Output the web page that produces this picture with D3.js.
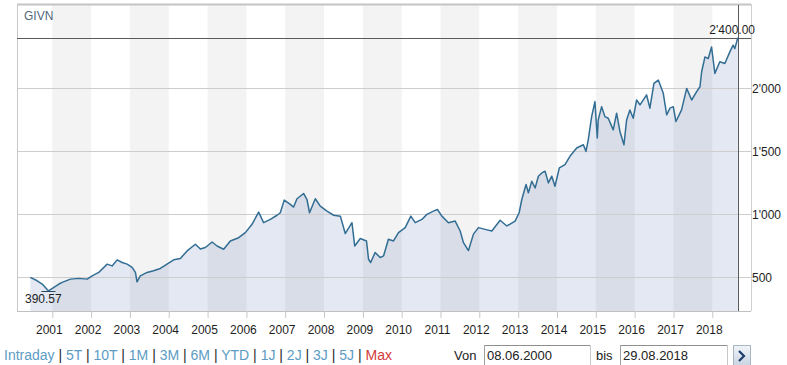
<!DOCTYPE html>
<html>
<head>
<meta charset="utf-8">
<script src="https://cdn.jsdelivr.net/npm/d3@7"></script>
<style>
  html, body { margin: 0; padding: 0; background: #fff; }
  svg { display: block; font-family: "Liberation Sans", Arial, sans-serif; }
</style>
</head>
<body>
<svg id="chart" width="787" height="365"></svg>
<script>
// ---------- data ----------
const symbol = "GIVN";
const startDate = "2000-06-08";
const endDate = "2018-08-29";
const dates = [
  "2000-06-08","2000-08-12","2000-09-28","2000-11-14","2000-11-26","2001-01-16","2001-03-04","2001-04-04",
  "2001-06-21","2001-09-07","2001-11-25","2002-01-11","2002-03-14","2002-06-01","2002-07-18","2002-09-03",
  "2002-10-20","2002-12-06","2003-01-22","2003-02-22","2003-03-09","2003-04-09","2003-06-11","2003-08-12",
  "2003-10-14","2003-12-16","2004-02-17","2004-04-20","2004-06-22","2004-09-08","2004-10-25","2004-12-11",
  "2005-02-12","2005-03-31","2005-06-01","2005-08-03","2005-10-20","2005-12-22","2006-02-23","2006-04-26",
  "2006-06-12","2006-08-14","2006-10-16","2006-11-16","2006-12-23","2007-02-18","2007-03-21","2007-04-22",
  "2007-06-23","2007-07-25","2007-08-18","2007-10-11","2007-11-27","2008-01-29","2008-04-01","2008-06-03",
  "2008-07-19","2008-09-20","2008-10-16","2008-12-07","2009-02-04","2009-02-23","2009-03-15","2009-04-26",
  "2009-06-13","2009-07-15","2009-08-29","2009-10-16","2009-12-02","2010-02-03","2010-03-28","2010-05-08",
  "2010-07-10","2010-08-26","2010-10-27","2010-12-03","2011-01-14","2011-03-17","2011-05-19","2011-07-05",
  "2011-08-05","2011-09-21","2011-11-07","2011-12-24","2012-02-25","2012-04-28","2012-07-15","2012-09-16",
  "2012-12-03","2013-01-10","2013-02-04","2013-03-16","2013-04-07","2013-05-09","2013-06-09","2013-07-10",
  "2013-08-11","2013-09-11","2013-10-12","2013-11-13","2013-12-13","2014-01-23","2014-03-17","2014-05-03",
  "2014-07-05","2014-09-06","2014-10-01","2014-10-22","2014-11-23","2014-12-24","2015-01-15","2015-01-24",
  "2015-02-25","2015-03-28","2015-04-28","2015-06-14","2015-07-16","2015-08-16","2015-09-23","2015-10-18",
  "2015-11-18","2015-12-19","2016-01-20","2016-02-21","2016-04-23","2016-05-24","2016-07-01","2016-08-11",
  "2016-09-27","2016-10-29","2016-11-29","2016-12-30","2017-01-24","2017-03-18","2017-05-05","2017-06-21",
  "2017-08-07","2017-09-07","2017-09-23","2017-10-24","2017-11-24","2017-12-25","2018-01-25","2018-03-13",
  "2018-04-29","2018-06-15","2018-07-16","2018-08-01","2018-08-29"
];
const values = [
  497,470,444,400,390.57,418,444,457,
  483,489,483,509,536,602,588,636,
  615,602,576,536,462,509,536,549,
  568,602,636,647,707,760,722,734,
  778,746,720,786,812,852,918,1015,
  931,957,990,1010,1110,1076,1055,1121,
  1163,1115,1010,1121,1062,1023,990,983,
  845,931,746,805,786,641,615,694,
  655,668,799,786,852,892,983,931,
  957,997,1023,1036,983,931,944,865,
  773,710,840,892,878,865,950,905,
  944,1010,1115,1234,1168,1260,1207,1300,
  1326,1339,1247,1300,1220,1366,1392,1458,
  1524,1550,1497,1589,1773,1892,1603,1747,
  1852,1773,1760,1668,1800,1655,1550,1747,
  1826,1760,1905,1866,1945,1840,2037,2063,
  1958,1787,1840,1852,1734,1826,1997,1905,
  1971,2010,2129,2247,2234,2326,2116,2208,
  2195,2287,2340,2313,2400
];
const yTickValues = [500, 1000, 1500, 2000];
const rangeLinks = ["Intraday","5T","10T","1M","3M","6M","YTD","1J","2J","3J","5J","Max"];
const fromLabel = "Von", toLabel = "bis";
const fromText = "08.06.2000", toText = "29.08.2018";

// ---------- setup ----------
const parse = d3.timeParse("%Y-%m-%d");
const data = dates.map((d, i) => ({ date: parse(d), value: values[i] }));
const chLocale = d3.formatLocale({ decimal: ".", thousands: "'", grouping: [3], currency: ["", ""] });
const fmtInt = chLocale.format(",.0f");
const fmt2 = chLocale.format(",.2f");

const frame = { left: 17, right: 751, top: 4, bottom: 311 };
const x = d3.scaleTime().domain([parse(startDate), parse(endDate)]).range([30.3, 737.8]);
const y = d3.scaleLinear().domain([230, 2667]).range([frame.bottom, frame.top]);

const svg = d3.select("#chart");
const font = "12px";

// alternating year stripes
const years = d3.timeYear.range(new Date(2001, 0, 1), new Date(2018, 0, 1));
svg.append("g").selectAll("rect")
  .data(years.filter(d => d.getFullYear() % 2 === 1))
  .join("rect")
  .attr("x", d => x(d))
  .attr("y", frame.top)
  .attr("width", d => x(d3.timeYear.offset(d, 1)) - x(d))
  .attr("height", frame.bottom - frame.top)
  .attr("fill", "#f3f3f3");

// area
const area = d3.area().x(d => x(d.date)).y0(frame.bottom).y1(d => y(d.value));
svg.append("path").datum(data).attr("d", area).attr("fill", "rgba(60,90,160,0.14)");

// gridlines
svg.append("g").selectAll("line").data(yTickValues).join("line")
  .attr("x1", frame.left).attr("x2", frame.right)
  .attr("y1", d => Math.round(y(d)) + 0.5).attr("y2", d => Math.round(y(d)) + 0.5)
  .attr("stroke", "#cdcdcd").attr("stroke-width", 1);

// frame
svg.append("line").attr("x1", frame.left).attr("x2", frame.right).attr("y1", 4.5).attr("y2", 4.5)
  .attr("stroke", "#c4c4c4").attr("stroke-width", 2);
svg.append("line").attr("x1", frame.left + 0.5).attr("x2", frame.left + 0.5).attr("y1", frame.top).attr("y2", frame.bottom)
  .attr("stroke", "#c8c8c8");
svg.append("line").attr("x1", frame.right + 0.5).attr("x2", frame.right + 0.5).attr("y1", frame.top).attr("y2", frame.bottom)
  .attr("stroke", "#d0d0d0");
svg.append("line").attr("x1", frame.left).attr("x2", frame.right).attr("y1", frame.bottom + 0.5).attr("y2", frame.bottom + 0.5)
  .attr("stroke", "#c0c0c0");

// x axis (year ticks)
const xAxis = d3.axisBottom(x).ticks(d3.timeYear.every(1)).tickFormat(d3.timeFormat("%Y")).tickSize(7).tickPadding(7);
const gx = svg.append("g").attr("transform", `translate(0,${frame.bottom})`).call(xAxis);
gx.select(".domain").remove();
gx.selectAll(".tick line").attr("stroke", "#c8c8c8");
gx.selectAll(".tick text").attr("font-size", font).attr("font-family", null).attr("fill", "#1e1e1e")
  .attr("dx", -3.5);

// y axis labels (right)
const yAxis = d3.axisRight(y).tickValues(yTickValues).tickFormat(fmtInt).tickSize(0).tickPadding(0);
const gy = svg.append("g").attr("transform", `translate(${frame.right + 1},0)`).call(yAxis);
gy.select(".domain").remove();
gy.selectAll(".tick text").attr("font-size", font).attr("font-family", null).attr("fill", "#1e1e1e").attr("dy", "0.4em");

// last value markers
const last = data[data.length - 1];
const maxV = d3.max(data, d => d.value);
svg.append("line").attr("x1", frame.left).attr("x2", frame.right)
  .attr("y1", Math.round(y(maxV)) + 0.5).attr("y2", Math.round(y(maxV)) + 0.5)
  .attr("stroke", "#5a5a5a");
svg.append("line").attr("x1", Math.round(x(last.date)) + 0.5).attr("x2", Math.round(x(last.date)) + 0.5)
  .attr("y1", frame.top + 1).attr("y2", frame.bottom)
  .attr("stroke", "#5a5a5a");

// line
const line = d3.line().x(d => x(d.date)).y(d => y(d.value));
svg.append("path").datum(data).attr("d", line)
  .attr("fill", "none").attr("stroke", "#326d93").attr("stroke-width", 1.5).attr("stroke-linejoin", "round");

// max label
svg.append("text").attr("x", 755).attr("y", y(maxV) - 4).attr("text-anchor", "end")
  .attr("font-size", font).attr("fill", "#1e1e1e").text(fmt2(maxV));

// min marker
const minD = data.reduce((a, b) => (b.value < a.value ? b : a));
svg.append("line").attr("x1", x(minD.date) - 7).attr("x2", x(minD.date) + 7)
  .attr("y1", Math.round(y(minD.value)) + 0.5).attr("y2", Math.round(y(minD.value)) + 0.5)
  .attr("stroke", "#2a4a60");
svg.append("text").attr("x", 25).attr("y", 303).attr("font-size", font).attr("fill", "#1e1e1e")
  .text(d3.format(".2f")(minD.value));

// symbol
svg.append("text").attr("x", 24).attr("y", 20).attr("font-size", font).attr("fill", "#53687c").text(symbol);

// range links
const links = svg.append("text").attr("x", 4).attr("y", 360).attr("font-size", "14px");
rangeLinks.forEach((t, i) => {
  if (i > 0) links.append("tspan").attr("fill", "#2a2a2a").text(" | ");
  links.append("tspan").attr("fill", t === "Max" ? "#d23c3c" : "#5c9cc4").text(t);
});

// date range inputs
const ctl = svg.append("g").attr("font-size", "13px");
function inputBox(x0, x1, txt) {
  ctl.append("rect").attr("x", x0 + 0.5).attr("y", 345.5).attr("width", x1 - x0).attr("height", 22)
    .attr("fill", "#fff").attr("stroke", "#c8c8c8");
  ctl.append("line").attr("x1", x0 + 0.5).attr("x2", x1).attr("y1", 345.5).attr("y2", 345.5).attr("stroke", "#8f8f8f");
  ctl.append("line").attr("x1", x0 + 0.5).attr("x2", x0 + 0.5).attr("y1", 345.5).attr("y2", 366).attr("stroke", "#a0a0a0");
  ctl.append("text").attr("x", x0 + 3).attr("y", 359.5).attr("fill", "#222").text(txt);
}
ctl.append("text").attr("x", 454).attr("y", 359.5).attr("fill", "#222").text(fromLabel);
inputBox(484, 590, fromText);
ctl.append("text").attr("x", 596).attr("y", 359.5).attr("fill", "#222").text(toLabel);
inputBox(620, 727, toText);

// go button
const defs = svg.append("defs");
const grad = defs.append("linearGradient").attr("id", "btn").attr("x1", 0).attr("x2", 0).attr("y1", 0).attr("y2", 1);
grad.append("stop").attr("offset", "0%").attr("stop-color", "#f0f4f8");
grad.append("stop").attr("offset", "100%").attr("stop-color", "#c9d5e2");
ctl.append("rect").attr("x", 733.5).attr("y", 345.5).attr("width", 17).attr("height", 20)
  .attr("fill", "url(#btn)").attr("stroke", "#a9b6c4");
ctl.append("path").attr("d", "M739,351 L744,356 L739,361").attr("fill", "none")
  .attr("stroke", "#1d3d6b").attr("stroke-width", 2.2);
</script>
</body>
</html>
